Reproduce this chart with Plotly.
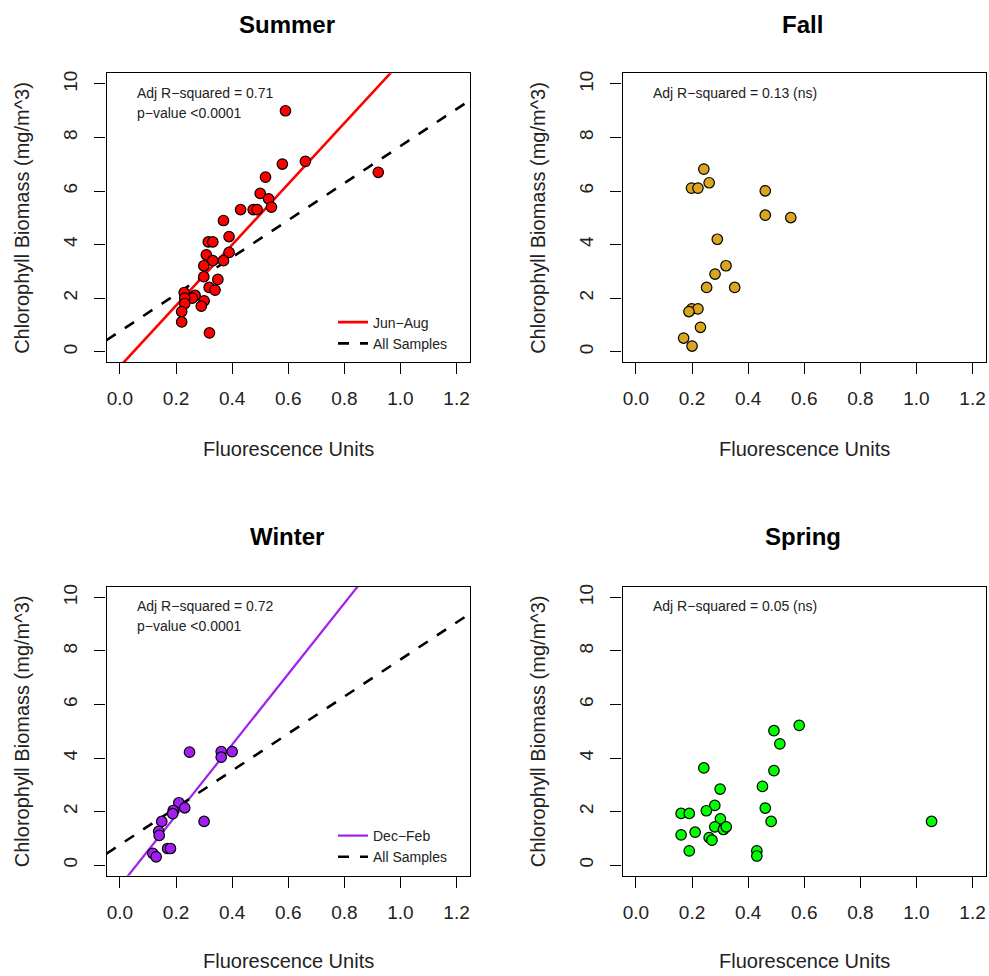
import plotly.graph_objects as go

# ---------------- data ----------------
summer_x = [0.590, 0.579, 0.661, 0.921, 0.519, 0.500, 0.530, 0.540, 0.475, 0.489,
            0.430, 0.369, 0.389, 0.315, 0.331, 0.389, 0.308, 0.331, 0.369, 0.299,
            0.299, 0.349, 0.318, 0.339, 0.229, 0.268, 0.258, 0.231, 0.300, 0.231,
            0.290, 0.220, 0.220, 0.319]
summer_y = [9.00, 7.01, 7.11, 6.70, 6.52, 5.91, 5.71, 5.40, 5.31, 5.31,
            5.31, 4.90, 4.30, 4.10, 4.10, 3.71, 3.62, 3.40, 3.40, 3.21,
            2.80, 2.70, 2.40, 2.30, 2.21, 2.10, 2.00, 2.00, 1.90, 1.80,
            1.70, 1.50, 1.11, 0.70]

fall_x = [0.242, 0.261, 0.198, 0.221, 0.461, 0.461, 0.552, 0.290, 0.321, 0.282,
          0.252, 0.352, 0.199, 0.221, 0.189, 0.230, 0.170, 0.200]
fall_y = [6.82, 6.31, 6.11, 6.11, 6.01, 5.10, 5.01, 4.20, 3.21, 2.90,
          2.40, 2.40, 1.60, 1.60, 1.50, 0.91, 0.51, 0.21]

winter_x = [0.248, 0.361, 0.361, 0.400, 0.210, 0.231, 0.190, 0.188, 0.149, 0.300,
            0.138, 0.140, 0.170, 0.180, 0.117, 0.129]
winter_y = [4.22, 4.24, 4.03, 4.24, 2.33, 2.14, 2.04, 1.92, 1.63, 1.63,
            1.26, 1.11, 0.62, 0.62, 0.44, 0.31]

spring_x = [0.582, 0.492, 0.513, 0.492, 0.242, 0.451, 0.300, 0.461, 0.281, 0.251,
            0.161, 0.190, 0.301, 0.482, 1.054, 0.281, 0.312, 0.322, 0.211, 0.161,
            0.261, 0.271, 0.190, 0.431, 0.431]
spring_y = [5.22, 5.02, 4.53, 3.53, 3.63, 2.94, 2.84, 2.13, 2.23, 2.03,
            1.93, 1.93, 1.73, 1.63, 1.63, 1.43, 1.33, 1.43, 1.23, 1.13,
            1.03, 0.93, 0.53, 0.53, 0.34]

# regression coefficients (intercept, slope)
summer_fit = (-0.55, 11.36)
winter_fit = (-0.78, 13.20)
all_fit = (0.76, 6.92)

panel_titles = ["Summer", "Fall", "Winter", "Spring"]
stat_texts = [["Adj R−squared = 0.71", "p−value <0.0001"],
              ["Adj R−squared = 0.13 (ns)"],
              ["Adj R−squared = 0.72", "p−value <0.0001"],
              ["Adj R−squared = 0.05 (ns)"]]
x_ticks = [0.0, 0.2, 0.4, 0.6, 0.8, 1.0, 1.2]
x_tick_labels = ["0.0", "0.2", "0.4", "0.6", "0.8", "1.0", "1.2"]
y_ticks = [0, 2, 4, 6, 8, 10]
y_tick_labels = ["0", "2", "4", "6", "8", "10"]
x_title = "Fluorescence Units"
y_title = "Chlorophyll Biomass (mg/m^3)"
X_RANGE = [-0.048, 1.248]
Y_RANGE = [-0.4, 10.4]

colors = ["#FF0000", "#DAA520", "#A020F0", "#00FF00"]

# ---------------- layout geometry ----------------
W, H = 989, 976
FONT = "Liberation Sans, Arial, Helvetica, sans-serif"
col_px = [(106.5, 470.0), (622.5, 986.0)]
row_px = [(70.5, 360.5), (585.5, 875.5)]


def px_x(p):
    return p / W


def px_y(p):
    return 1 - p / H


fig = go.Figure()

series = [(summer_x, summer_y), (fall_x, fall_y), (winter_x, winter_y), (spring_x, spring_y)]

for i in range(4):
    r, c = divmod(i, 2)
    ax = "" if i == 0 else str(i + 1)
    xa, ya = "x" + ax, "y" + ax
    x0, x1 = col_px[c]
    y0, y1 = row_px[r]
    axis_common = dict(showline=True, mirror=True, linecolor="black", linewidth=1.2,
                       ticks="outside", ticklen=11, tickcolor="black", tickwidth=1.2,
                       showgrid=False, zeroline=False,
                       tickfont=dict(family=FONT, size=19, color="#222"))
    fig.layout["xaxis" + ax] = dict(domain=[px_x(x0), px_x(x1)], range=X_RANGE,
                                    anchor=ya, tickvals=x_ticks, ticktext=x_tick_labels,
                                    ticklabelstandoff=8, **axis_common)
    fig.layout["yaxis" + ax] = dict(domain=[px_y(y1), px_y(y0)], range=Y_RANGE,
                                    anchor=xa, tickvals=y_ticks, ticktext=y_tick_labels,
                                    tickangle=-90, ticklabelstandoff=10, **axis_common)

    sx, sy = series[i]
    legend_name = "legend" if i == 0 else ("legend2" if i == 2 else None)

    # fit lines for Summer / Winter
    if i in (0, 2):
        a, b = summer_fit if i == 0 else winter_fit
        lname = "Jun−Aug" if i == 0 else "Dec−Feb"
        lw = 2.6 if i == 0 else 2.2
        fig.add_trace(go.Scatter(x=X_RANGE, y=[a + b * X_RANGE[0], a + b * X_RANGE[1]],
                                 mode="lines", line=dict(color=colors[i], width=lw),
                                 xaxis=xa, yaxis=ya, name=lname, showlegend=True,
                                 legend=legend_name, hoverinfo="skip"))
        a2, b2 = all_fit
        fig.add_trace(go.Scatter(x=X_RANGE, y=[a2 + b2 * X_RANGE[0], a2 + b2 * X_RANGE[1]],
                                 mode="lines", line=dict(color="black", width=2.6, dash="11px,11px"),
                                 xaxis=xa, yaxis=ya, name="All Samples", showlegend=True,
                                 legend=legend_name, hoverinfo="skip"))

    fig.add_trace(go.Scatter(x=sx, y=sy, mode="markers",
                             marker=dict(color=colors[i], size=10.5,
                                         line=dict(color="black", width=1.2)),
                             xaxis=xa, yaxis=ya, showlegend=False, name=panel_titles[i]))

    # panel title
    cx = (x0 + x1) / 2
    fig.add_annotation(text="<b>%s</b>" % panel_titles[i], x=px_x(cx - 1.5), y=px_y(21.5 + r * 514),
                       xref="paper", yref="paper", showarrow=False, xanchor="center",
                       yanchor="middle", font=dict(family=FONT, size=24, color="black"))
    # axis titles
    fig.add_annotation(text=x_title, x=px_x(cx), y=px_y(447 + r * 514),
                       xref="paper", yref="paper", showarrow=False, xanchor="center",
                       yanchor="middle", font=dict(family=FONT, size=20, color="#222"))
    fig.add_annotation(text=y_title, x=px_x(22 + c * 516), y=px_y((y0 + y1) / 2),
                       xref="paper", yref="paper", showarrow=False, xanchor="center",
                       yanchor="middle", textangle=-90,
                       font=dict(family=FONT, size=20, color="#222"))
    # stats text
    for k, t in enumerate(stat_texts[i]):
        fig.add_annotation(text=t, x=px_x(x0 + 28.5), y=px_y(y0 + 19.5 + 20 * k),
                           xref="paper", yref="paper", showarrow=False, xanchor="left",
                           yanchor="middle", font=dict(family=FONT, size=14, color="#222"))

legend_common = dict(xanchor="left", yanchor="top", bgcolor="rgba(0,0,0,0)",
                     font=dict(family=FONT, size=14, color="#222"), itemwidth=30,
                     tracegroupgap=0)
fig.update_layout(
    width=W, height=H,
    margin=dict(l=0, r=0, t=0, b=0),
    paper_bgcolor="white", plot_bgcolor="white",
    font=dict(family=FONT),
    showlegend=True,
    legend=dict(x=px_x(333), y=px_y(304.5), **legend_common),
    legend2=dict(x=px_x(333), y=px_y(304.5 + 515), **legend_common),
)

fig.write_html("out.html", config={"displayModeBar": False},
               post_script="document.body.style.margin='0px';document.body.style.overflow='hidden';")
